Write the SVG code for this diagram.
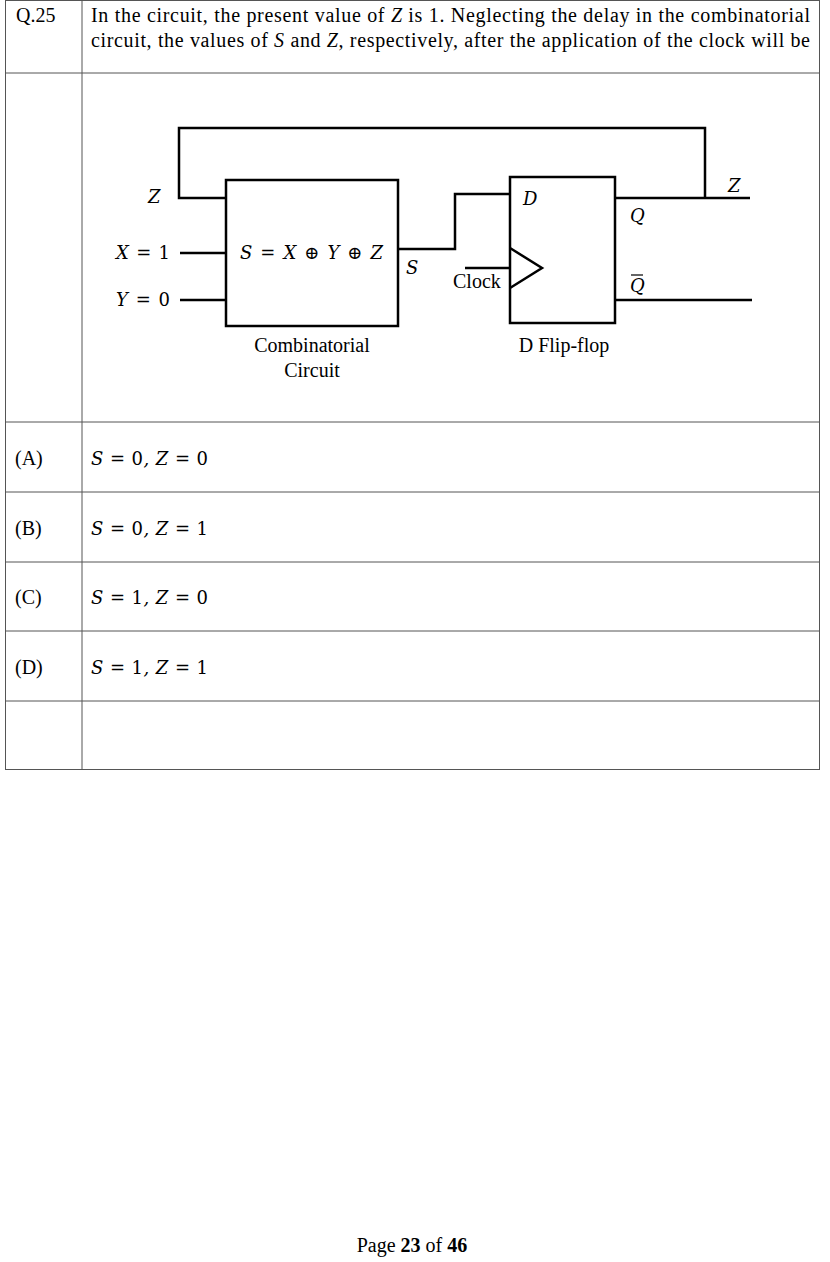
<svg xmlns="http://www.w3.org/2000/svg" width="830" height="1262" viewBox="0 0 830 1262">
<style>
.t{font-family:"Liberation Serif",serif;font-size:20px;fill:#000}
.m{font-family:"DejaVu Serif","Liberation Serif",serif;font-size:18px;font-style:italic;fill:#000}
.n{font-style:normal}
.g{stroke:#555;stroke-width:1;fill:none}
.w{stroke:#000;stroke-width:2.5;fill:none}
</style>
<rect width="830" height="1262" fill="#fff"/>
<g id="table">
<rect class="g" x="5.5" y="0.5" width="814" height="769"/>
<line class="g" x1="82" y1="0" x2="82" y2="770"/>
<line class="g" x1="5" y1="73" x2="820" y2="73"/>
<line class="g" x1="5" y1="422" x2="820" y2="422"/>
<line class="g" x1="5" y1="492" x2="820" y2="492"/>
<line class="g" x1="5" y1="562" x2="820" y2="562"/>
<line class="g" x1="5" y1="631" x2="820" y2="631"/>
<line class="g" x1="5" y1="701" x2="820" y2="701"/>
</g>
<text class="t" x="16" y="22">Q.25</text>
<text class="t" x="91" y="22" textLength="719" lengthAdjust="spacing">In the circuit, the present value of <tspan font-style="italic">Z</tspan> is 1. Neglecting the delay in the combinatorial</text>
<text class="t" x="91" y="47" textLength="719" lengthAdjust="spacing">circuit, the values of <tspan font-style="italic">S</tspan> and <tspan font-style="italic">Z</tspan>, respectively, after the application of the clock will be</text>
<g id="comb">
<rect class="w" x="226" y="180" width="172" height="146"/>
<text class="m" x="240" y="259" textLength="143" lengthAdjust="spacing">S = X ⊕ Y ⊕ Z</text>
<text class="t" x="312" y="352" text-anchor="middle">Combinatorial</text>
<text class="t" x="312" y="377" text-anchor="middle">Circuit</text>
</g>
<g id="dff">
<rect class="w" x="510" y="177" width="105" height="146"/>
<polyline class="w" points="510,248 542,268 510,288"/>
<text class="m" x="523" y="205">D</text>
<text class="m" x="630" y="222">Q</text>
<text class="m" x="630" y="292">Q</text>
<line x1="631" y1="275" x2="643" y2="275" stroke="#000" stroke-width="1.2"/>
<text class="t" x="564" y="352" text-anchor="middle">D Flip-flop</text>
</g>
<g id="connectors">
<polyline class="w" points="226,198 179,198 179,128 705,128 705,198"/>
<line class="w" x1="180" y1="253" x2="226" y2="253"/>
<line class="w" x1="180" y1="300" x2="226" y2="300"/>
<polyline class="w" points="398,249 455,249 455,194 510,194"/>
<line class="w" x1="465" y1="268" x2="510" y2="268"/>
<line class="w" x1="615" y1="198" x2="750" y2="198"/>
<line class="w" x1="615" y1="300" x2="752" y2="300"/>
</g>
<text class="m" x="148" y="203">Z</text>
<text class="m" x="116" y="259" textLength="54">X = <tspan class="n">1</tspan></text>
<text class="m" x="116" y="306" textLength="54">Y = <tspan class="n">0</tspan></text>
<text class="m" x="406" y="274">S</text>
<text class="t" x="453" y="288">Clock</text>
<text class="m" x="728" y="192">Z</text>
<text class="t" x="15" y="465">(A)</text>
<text class="m" x="91" y="465" textLength="117">S = <tspan class="n">0</tspan>, Z = <tspan class="n">0</tspan></text>
<text class="t" x="15" y="535">(B)</text>
<text class="m" x="91" y="535" textLength="117">S = <tspan class="n">0</tspan>, Z = <tspan class="n">1</tspan></text>
<text class="t" x="15" y="604">(C)</text>
<text class="m" x="91" y="604" textLength="117">S = <tspan class="n">1</tspan>, Z = <tspan class="n">0</tspan></text>
<text class="t" x="15" y="674">(D)</text>
<text class="m" x="91" y="674" textLength="117">S = <tspan class="n">1</tspan>, Z = <tspan class="n">1</tspan></text>
<text class="t" x="412" y="1252" text-anchor="middle">Page <tspan font-weight="bold">23</tspan> of <tspan font-weight="bold">46</tspan></text>
</svg>
